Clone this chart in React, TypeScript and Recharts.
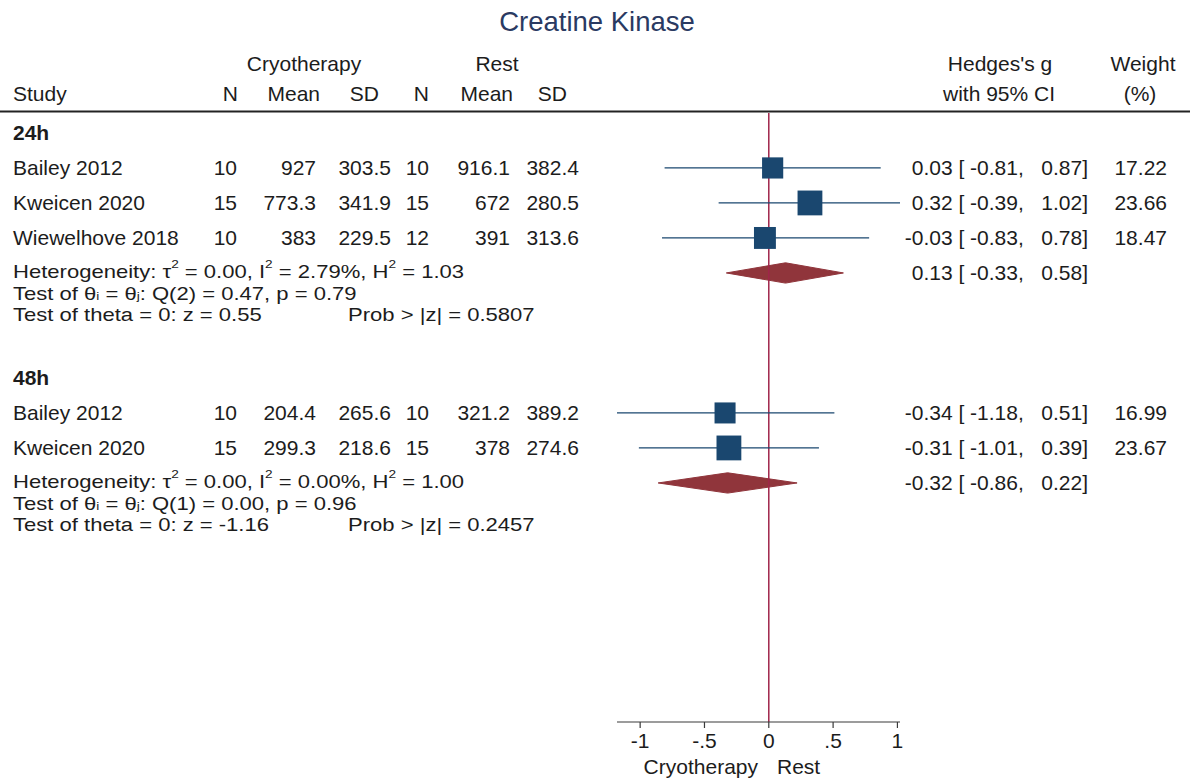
import React from 'react';
import { ComposedChart, XAxis, YAxis, Scatter, Area, ErrorBar, ReferenceLine, Customized } from 'recharts';

// ---------- data ----------
const groupLabels = ['24h', '48h'];
const groupRows = [0, 7];

const studyNames = ['Bailey 2012', 'Kweicen 2020', 'Wiewelhove 2018', 'Bailey 2012', 'Kweicen 2020'];
const studyRows = [1, 2, 3, 8, 9];
const cryoN = [10, 15, 10, 10, 15];
const cryoMean = [927, 773.3, 383, 204.4, 299.3];
const cryoSD = [303.5, 341.9, 229.5, 265.6, 218.6];
const restN = [10, 15, 12, 10, 15];
const restMean = [916.1, 672, 391, 321.2, 378];
const restSD = [382.4, 280.5, 313.6, 389.2, 274.6];
const hedgesG = [0.03, 0.32, -0.03, -0.34, -0.31];
const ciLow = [-0.81, -0.39, -0.83, -1.18, -1.01];
const ciHigh = [0.87, 1.02, 0.78, 0.51, 0.39];
const weights = [17.22, 23.66, 18.47, 16.99, 23.67];

const overallRows = [4, 10];
const overallG = [0.13, -0.32];
const overallLow = [-0.33, -0.86];
const overallHigh = [0.58, 0.22];
const tau2 = ['0.00', '0.00'];
const i2 = ['2.79%', '0.00%'];
const h2 = ['1.03', '1.00'];
const qDf = ['2', '1'];
const qStat = ['0.47', '0.00'];
const qP = ['0.79', '0.96'];
const zStat = ['0.55', '-1.16'];
const zProb = ['0.5807', '0.2457'];

const xTicks = [-1, -0.5, 0, 0.5, 1];
const xTickLabels = ['-1', '-.5', '0', '.5', '1'];

// ---------- style / layout ----------
const W = 1190;
const H = 778;
const FONT = '"Liberation Sans", Arial, Helvetica, sans-serif';
const FS = 21;
const TXT = '#1c1c1c';
const NAVY = '#1a476f';
const MAROON = '#90353b';
const REDLINE = '#a0254a';
const TITLE = '#2a3a62';
const BOX_K = 5.1;
const DIAMOND_H = 0.29;
const NOTE_SCALE = 'scale(1.05,0.88)';

const COL = { study: 13, cN: 237, cMean: 316, cSD: 391, rN: 429, rMean: 510, rSD: 579, es: 1088, wt: 1167, prob: 348 };

const fmt2 = (v: number) => v.toFixed(2);
const pad = (s: string, n: number) => (s.length >= n ? s : ' '.repeat(n - s.length) + s);
const esText = (g: number, lo: number, hi: number) => `${fmt2(g)} [${pad(fmt2(lo), 6)}, ${pad(fmt2(hi), 6)}]`;

const studyData = studyNames.map((name, i) => ({
  x: hedgesG[i],
  y: studyRows[i],
  err: [hedgesG[i] - ciLow[i], ciHigh[i] - hedgesG[i]],
  name,
  cN: cryoN[i],
  cMean: cryoMean[i],
  cSD: cryoSD[i],
  rN: restN[i],
  rMean: restMean[i],
  rSD: restSD[i],
  es: esText(hedgesG[i], ciLow[i], ciHigh[i]),
  weight: weights[i],
}));

const groupData = groupLabels.map((label, i) => ({ x: 0, y: groupRows[i], label }));

const overallData = overallG.map((g, i) => ({
  x: g,
  y: overallRows[i],
  es: esText(g, overallLow[i], overallHigh[i]),
  i,
}));

const diamondData = overallG.map((g, i) => [
  { x: overallLow[i], r: [overallRows[i], overallRows[i]] },
  { x: g, r: [overallRows[i] - DIAMOND_H, overallRows[i] + DIAMOND_H] },
  { x: overallHigh[i], r: [overallRows[i], overallRows[i]] },
]);

// ---------- shapes ----------
const StudyShape = (p: any) => {
  const d = p.payload;
  const s = BOX_K * Math.sqrt(d.weight);
  const cy = p.cy;
  const t = (x: number, v: any, anchor: string = 'end') => (
    <text x={x} y={cy} textAnchor={anchor} dominantBaseline="central" style={{ whiteSpace: 'pre' }}>
      {String(v)}
    </text>
  );
  return (
    <g>
      <rect x={p.cx - s / 2} y={cy - s / 2} width={s} height={s} fill={NAVY} />
      <g fontFamily={FONT} fontSize={FS} fill={TXT}>
        {t(COL.study, d.name, 'start')}
        {t(COL.cN, d.cN)}
        {t(COL.cMean, d.cMean)}
        {t(COL.cSD, d.cSD)}
        {t(COL.rN, d.rN)}
        {t(COL.rMean, d.rMean)}
        {t(COL.rSD, d.rSD)}
        {t(COL.es, d.es)}
        {t(COL.wt, d.weight.toFixed(2))}
      </g>
    </g>
  );
};

const GroupShape = (p: any) => (
  <text
    x={COL.study}
    y={p.cy}
    dominantBaseline="central"
    fontFamily={FONT}
    fontSize={FS}
    fontWeight="bold"
    fill={TXT}
  >
    {p.payload.label}
  </text>
);

const Note = ({ x, y, children }: any) => (
  <g transform={`translate(${x},${y}) ${NOTE_SCALE}`}>
    <text x={0} y={0} dominantBaseline="central">
      {children}
    </text>
  </g>
);

const OverallShape = (p: any) => {
  const i = p.payload.i;
  const cy = p.cy;
  const sup = { fontSize: 13 };
  return (
    <g fontFamily={FONT} fontSize={FS} fill={TXT}>
      <text x={COL.es} y={cy} textAnchor="end" dominantBaseline="central" style={{ whiteSpace: 'pre' }}>
        {p.payload.es}
      </text>
      <Note x={COL.study} y={cy - 1}>
        <tspan>Heterogeneity: τ</tspan>
        <tspan dy={-9} {...sup}>2</tspan>
        <tspan dy={9}>{` = ${tau2[i]}, I`}</tspan>
        <tspan dy={-9} {...sup}>2</tspan>
        <tspan dy={9}>{` = ${i2[i]}, H`}</tspan>
        <tspan dy={-9} {...sup}>2</tspan>
        <tspan dy={9}>{` = ${h2[i]}`}</tspan>
      </Note>
      <Note x={COL.study} y={cy + 21}>
        <tspan>Test of θ</tspan>
        <tspan dy={3} {...sup}>i</tspan>
        <tspan dy={-3}> = θ</tspan>
        <tspan dy={3} {...sup}>j</tspan>
        <tspan dy={-3}>{`: Q(${qDf[i]}) = ${qStat[i]}, p = ${qP[i]}`}</tspan>
      </Note>
      <Note x={COL.study} y={cy + 42}>
        {`Test of theta = 0: z = ${zStat[i]}`}
      </Note>
      <Note x={COL.prob} y={cy + 42}>
        {`Prob > |z| = ${zProb[i]}`}
      </Note>
    </g>
  );
};

const Headers = () => (
  <g fontFamily={FONT} fill={TXT}>
    <text x={597} y={21} textAnchor="middle" dominantBaseline="central" fontSize={27.5} fill={TITLE}>
      Creatine Kinase
    </text>
    <g fontSize={FS}>
      <text x={304} y={63} textAnchor="middle" dominantBaseline="central">Cryotherapy</text>
      <text x={497} y={63} textAnchor="middle" dominantBaseline="central">Rest</text>
      <text x={1000} y={63} textAnchor="middle" dominantBaseline="central">Hedges's g</text>
      <text x={1143} y={63} textAnchor="middle" dominantBaseline="central">Weight</text>
      <text x={13} y={93} dominantBaseline="central">Study</text>
      <text x={238} y={93} textAnchor="end" dominantBaseline="central">N</text>
      <text x={320} y={93} textAnchor="end" dominantBaseline="central">Mean</text>
      <text x={379} y={93} textAnchor="end" dominantBaseline="central">SD</text>
      <text x={429} y={93} textAnchor="end" dominantBaseline="central">N</text>
      <text x={513} y={93} textAnchor="end" dominantBaseline="central">Mean</text>
      <text x={567} y={93} textAnchor="end" dominantBaseline="central">SD</text>
      <text x={999} y={93} textAnchor="middle" dominantBaseline="central">with 95% CI</text>
      <text x={1140} y={93} textAnchor="middle" dominantBaseline="central">(%)</text>
      <text x={758} y={766} textAnchor="end" dominantBaseline="central">Cryotherapy</text>
      <text x={777} y={766} textAnchor="start" dominantBaseline="central">Rest</text>
    </g>
    <line x1={0} x2={W} y1={111.5} y2={111.5} stroke="#222" strokeWidth={2} />
  </g>
);

export default function App() {
  return (
    <div style={{ width: W, height: H, background: '#fff' }}>
      <style>{'body{margin:0}'}</style>
      <ComposedChart width={W} height={H} margin={{ top: 113, right: 290, bottom: 16, left: 617 }}>
        <XAxis
          type="number"
          dataKey="x"
          domain={[-1.18, 1.02]}
          ticks={xTicks}
          tickFormatter={(v: number) => xTickLabels[xTicks.indexOf(v)] ?? String(v)}
          height={40}
          tickSize={6}
          tickMargin={5}
          axisLine={{ stroke: '#3a3a3a', strokeWidth: 1.2 }}
          tickLine={{ stroke: '#3a3a3a', strokeWidth: 1.2 }}
          tick={{ fontSize: FS, fill: TXT, fontFamily: FONT }}
        />
        <YAxis type="number" dataKey="y" domain={[-0.57, 16.83]} reversed hide width={0} />
        <ReferenceLine x={0} stroke={REDLINE} strokeWidth={1.5} />
        {diamondData.map((dd, i) => (
          <Area
            key={`d${i}`}
            data={dd}
            dataKey="r"
            type="linear"
            stroke={MAROON}
            strokeWidth={1}
            fill={MAROON}
            fillOpacity={1}
            dot={false}
            activeDot={false}
            isAnimationActive={false}
          />
        ))}
        <Scatter data={groupData} shape={GroupShape} isAnimationActive={false} />
        <Scatter data={studyData} shape={StudyShape} isAnimationActive={false}>
          <ErrorBar dataKey="err" direction="x" width={0} stroke={NAVY} strokeWidth={1.3} isAnimationActive={false} />
        </Scatter>
        <Scatter data={overallData} shape={OverallShape} isAnimationActive={false} />
        <Customized component={<Headers />} />
      </ComposedChart>
    </div>
  );
}
